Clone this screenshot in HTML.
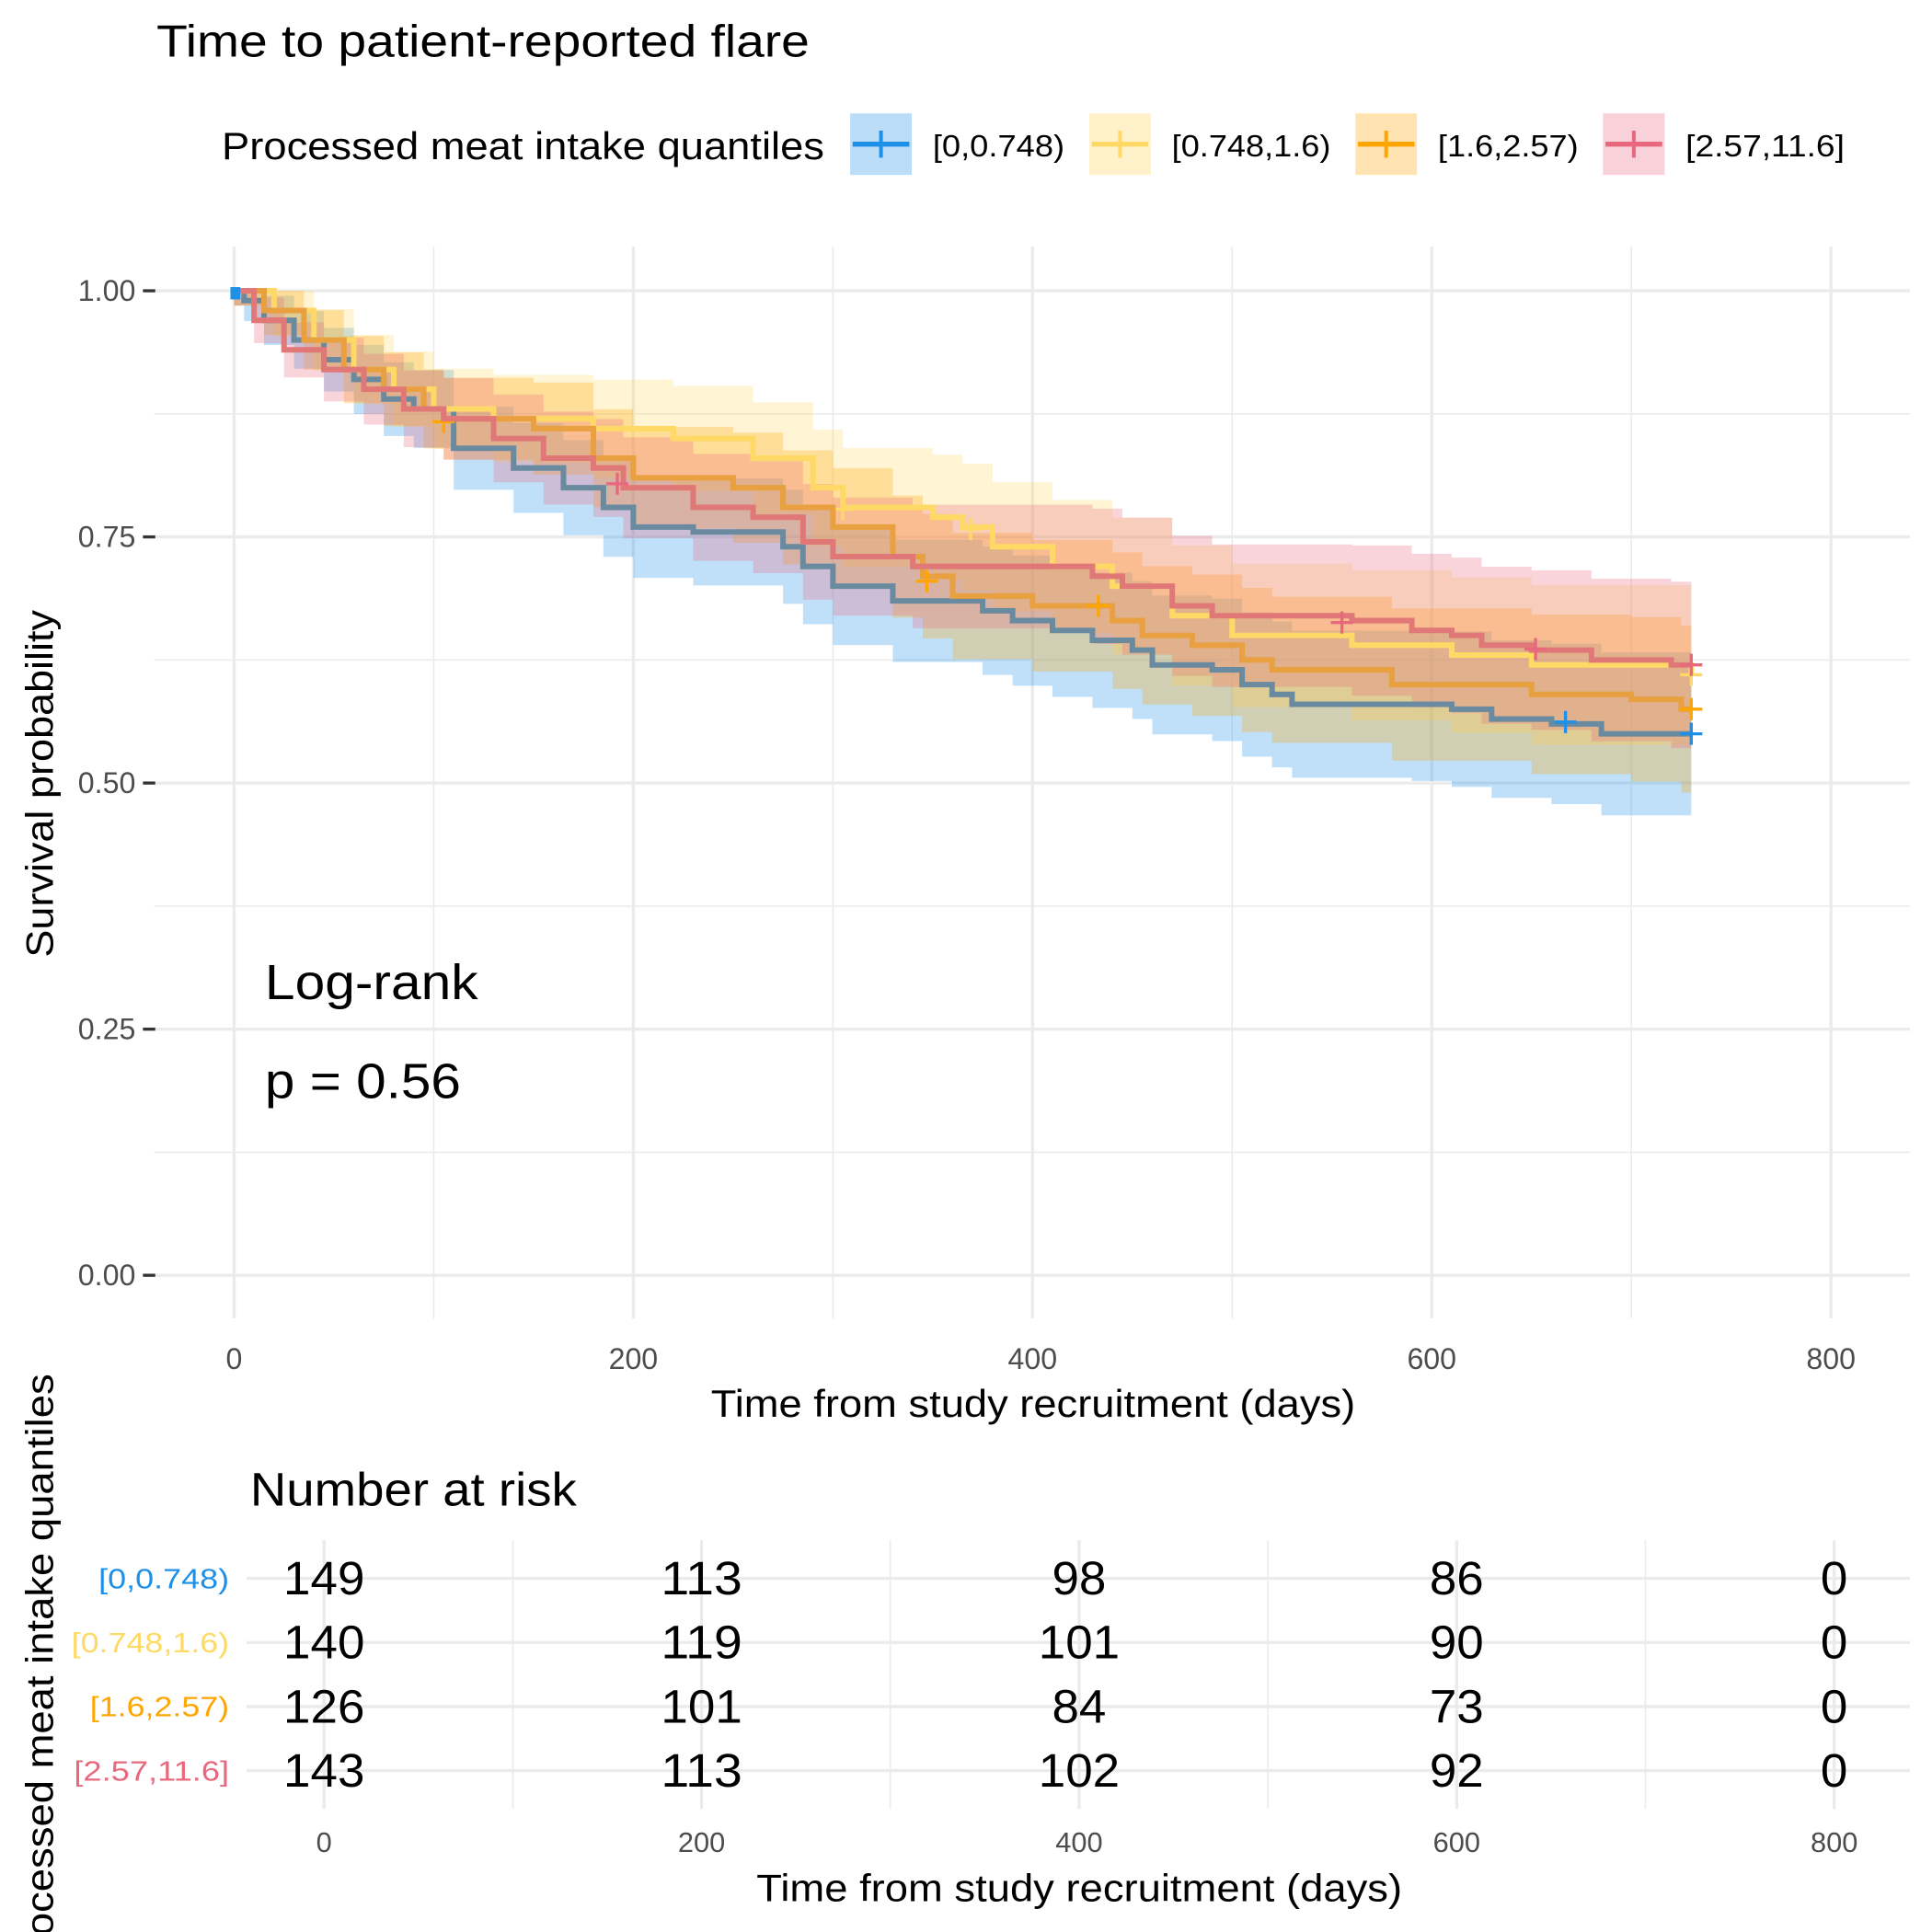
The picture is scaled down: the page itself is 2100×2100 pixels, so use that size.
<!DOCTYPE html>
<html><head><meta charset="utf-8"><style>
html,body{margin:0;padding:0;background:#fff}
svg{display:block}
text{font-family:"Liberation Sans",Arial,sans-serif}
</style></head><body>
<svg id="s" width="2100" height="2100" viewBox="0 0 1568 1568" xmlns="http://www.w3.org/2000/svg">
<rect width="1568" height="1568" fill="#fff"/>
<text x="127" y="46" font-size="37" textLength="530" lengthAdjust="spacingAndGlyphs">Time to patient-reported flare</text>
<text x="180" y="129" font-size="31" textLength="489" lengthAdjust="spacingAndGlyphs">Processed meat intake quantiles</text>
<rect x="690" y="92" width="50" height="50" fill="#1E90E8" opacity="0.3"/><line x1="692" y1="117" x2="738" y2="117" stroke="#1E90E8" stroke-width="4"/><line x1="715" y1="106" x2="715" y2="128" stroke="#1E90E8" stroke-width="3"/>
<text x="757" y="127" font-size="25" textLength="107" lengthAdjust="spacingAndGlyphs">[0,0.748)</text>
<rect x="884" y="92" width="50" height="50" fill="#FFD966" opacity="0.35"/><line x1="886" y1="117" x2="932" y2="117" stroke="#FFD966" stroke-width="4"/><line x1="909" y1="106" x2="909" y2="128" stroke="#FFD966" stroke-width="3"/>
<text x="951" y="127" font-size="25" textLength="129" lengthAdjust="spacingAndGlyphs">[0.748,1.6)</text>
<rect x="1100" y="92" width="50" height="50" fill="#FFA500" opacity="0.3"/><line x1="1102" y1="117" x2="1148" y2="117" stroke="#FFA500" stroke-width="4"/><line x1="1125" y1="106" x2="1125" y2="128" stroke="#FFA500" stroke-width="3"/>
<text x="1167" y="127" font-size="25" textLength="114" lengthAdjust="spacingAndGlyphs">[1.6,2.57)</text>
<rect x="1301" y="92" width="50" height="50" fill="#E8697D" opacity="0.3"/><line x1="1303" y1="117" x2="1349" y2="117" stroke="#E8697D" stroke-width="4"/><line x1="1326" y1="106" x2="1326" y2="128" stroke="#E8697D" stroke-width="3"/>
<text x="1368" y="127" font-size="25" textLength="129" lengthAdjust="spacingAndGlyphs">[2.57,11.6]</text>
<g id="grid" stroke="#ebebeb"></g>
<g id="bands"></g>
<g id="lines" fill="none" stroke-width="4.5"></g>
<g id="ax" font-size="24" fill="#4d4d4d"></g>
<text x="215" y="811" font-size="40" textLength="173" lengthAdjust="spacingAndGlyphs">Log-rank</text>
<text x="215" y="891" font-size="40" textLength="159" lengthAdjust="spacingAndGlyphs">p = 0.56</text>
<text x="577" y="1150" font-size="31" textLength="523" lengthAdjust="spacingAndGlyphs">Time from study recruitment (days)</text>
<text transform="translate(43,777) rotate(-90)" font-size="31" textLength="282" lengthAdjust="spacingAndGlyphs">Survival probability</text>
<text x="203" y="1222" font-size="38" textLength="265" lengthAdjust="spacingAndGlyphs">Number at risk</text>
<g id="risk"></g>
<text x="614" y="1543" font-size="31" textLength="524" lengthAdjust="spacingAndGlyphs">Time from study recruitment (days)</text>
<text transform="translate(43,1605) rotate(-90)" font-size="31" textLength="490" lengthAdjust="spacingAndGlyphs">Processed meat intake quantiles</text>
</svg>
<script>
var NS="http://www.w3.org/2000/svg";
function el(p,t,a,txt){var e=document.createElementNS(NS,t);for(var k in a)e.setAttribute(k,a[k]);if(txt!==undefined)e.textContent=txt;document.getElementById(p).appendChild(e);return e;}
function X(t){return 190+1.62*t;} function Y(v){return 1035-799*v;}
for(var v=0;v<=1.001;v+=0.125){var maj=Math.abs(v*4-Math.round(v*4))<1e-6;el("grid","line",{x1:125,x2:1550,y1:Y(v),y2:Y(v),"stroke-width":maj?2.5:1.2});}
for(var t=0;t<=800;t+=100){el("grid","line",{x1:X(t),x2:X(t),y1:200,y2:1070,"stroke-width":t%200==0?2.5:1.2});}
["0.00","0.25","0.50","0.75","1.00"].forEach(function(s,i){var y=Y(i*0.25);el("ax","text",{x:110,y:y+8,"text-anchor":"end"},s);el("ax","line",{x1:116,x2:126,y1:y,y2:y,stroke:"#333","stroke-width":2.5});});
[0,200,400,600,800].forEach(function(t){el("ax","text",{x:X(t),y:1111,"text-anchor":"middle"},t);});
var S=[
{c:"#1E90E8",lc:"#6a8aa0",d:[[0,1],[5,.99],[15,.97],[30,.95],[45,.93],[60,.91],[75,.89],[90,.88],[110,.84],[140,.82],[165,.80],[185,.78],[200,.76],[230,.755],[275,.74],[285,.72],[300,.70],[330,.685],[375,.675],[390,.665],[410,.655],[430,.645],[450,.635],[460,.62],[490,.615],[505,.60],[520,.59],[530,.58],[590,.58],[610,.575],[630,.565],[660,.56],[685,.55],[730,.55]],cens:[[667,.562],[730,.55]]},
{c:"#FFD966",lc:"#FFD966",d:[[0,1],[20,.98],[40,.95],[60,.92],[80,.90],[100,.88],[130,.87],[180,.86],[220,.85],[260,.83],[290,.80],[305,.78],[350,.77],[365,.76],[380,.74],[410,.72],[440,.70],[470,.67],[500,.65],[560,.64],[610,.63],[650,.62],[730,.61]],cens:[[305,.778],[369,.758],[730,.61]]},
{c:"#FFA500",lc:"#E8A040",d:[[0,1],[15,.98],[35,.95],[55,.92],[75,.90],[95,.88],[105,.87],[150,.86],[180,.83],[200,.81],[250,.80],[275,.78],[300,.76],[330,.73],[345,.71],[360,.69],[400,.68],[440,.665],[455,.65],[480,.64],[505,.625],[520,.615],[580,.60],[650,.59],[700,.585],[725,.575],[730,.575]],cens:[[105,.867],[347,.705],[433,.68],[730,.575]]},
{c:"#E8697D",lc:"#E07878",d:[[0,1],[10,.97],[25,.94],[45,.92],[65,.90],[85,.88],[105,.87],[130,.85],[155,.83],[180,.82],[195,.80],[230,.78],[260,.77],[285,.745],[300,.73],[340,.72],[430,.71],[445,.70],[470,.68],[490,.67],[560,.665],[590,.655],[610,.65],[625,.64],[650,.635],[680,.625],[720,.62],[730,.62]],cens:[[192,.804],[555,.663],[652,.636],[730,.62]]}
];
function w(t){return 0.015+0.07*Math.sqrt(t/730);}
S.forEach(function(s){
 var up=[],lo=[],ln=[];var d=s.d;
 for(var i=0;i<d.length;i++){var t=d[i][0],v=d[i][1];var tn=i+1<d.length?d[i+1][0]:t;
  ln.push([X(t),Y(v)],[X(tn),Y(v)]);
  up.push([X(t),Y(Math.min(1,v+w(t)))],[X(tn),Y(Math.min(1,v+w(t)))]);
  lo.push([X(t),Y(v-w(t))],[X(tn),Y(v-w(t))]);}
 var p="M"+up.map(function(q){return q.join(",")}).join("L")+"L"+lo.reverse().map(function(q){return q.join(",")}).join("L")+"Z";
 el("bands","path",{d:p,fill:s.c,"fill-opacity":0.28});
 s.ln=ln;});
S.forEach(function(s){
 el("lines","path",{d:"M"+s.ln.map(function(q){return q.join(",")}).join("L"),stroke:s.lc});
 s.cens.forEach(function(c){var x=X(c[0]),y=Y(c[1]);el("lines","path",{d:"M"+(x-9)+","+y+"H"+(x+9)+"M"+x+","+(y-9)+"V"+(y+9),stroke:s.c,"stroke-width":2.5});});
});
el("lines","rect",{x:187,y:233,width:8,height:10,fill:"#1E90E8",stroke:"none"});
function RX(t){return 263+1.532*t;}
for(var t=0;t<=800;t+=100)el("risk","line",{x1:RX(t),x2:RX(t),y1:1250,y2:1468,stroke:"#ebebeb","stroke-width":t%200==0?2.5:1.2});
var rows=[["[0,0.748)","#1E90E8",[149,113,98,86,0],80],["[0.748,1.6)","#FFD966",[140,119,101,90,0],58],["[1.6,2.57)","#FFA500",[126,101,84,73,0],73],["[2.57,11.6]","#E8697D",[143,113,102,92,0],60]];
rows.forEach(function(r,i){var y=1281+52*i;
 el("risk","line",{x1:200,x2:1550,y1:y,y2:y,stroke:"#ebebeb","stroke-width":2.5});
 el("risk","text",{x:r[3],y:y+8,"font-size":23,fill:r[1],textLength:186-r[3],lengthAdjust:"spacingAndGlyphs"},r[0]);
 r[2].forEach(function(n,j){var s=String(n);el("risk","text",{x:RX(200*j),y:y+13,"text-anchor":"middle","font-size":38,textLength:22*s.length,lengthAdjust:"spacingAndGlyphs"},s);});});
[0,200,400,600,800].forEach(function(t){el("risk","text",{x:RX(t),y:1503,"text-anchor":"middle","font-size":23,fill:"#4d4d4d"},t);});
</script>
</body></html>
